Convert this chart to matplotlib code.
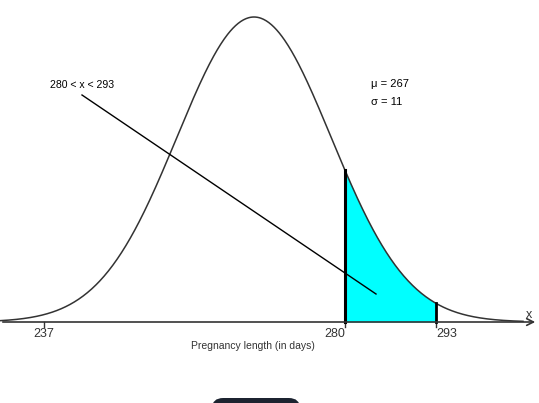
import numpy as np
import matplotlib
matplotlib.use("Agg")
import matplotlib.pyplot as plt
from matplotlib.patches import FancyBboxPatch

mu = 267
sigma = 11
lower = 280
upper = 293
tick_values = [237, 280, 293]
tick_labels = ["237", "280", "293"]
range_label = "280 < x < 293"
mu_label = "\u03bc = 267"
sigma_label = "\u03c3 = 11"
xlabel = "Pregnancy length (in days)"

plt.rcParams['font.family'] = ['Liberation Sans', 'DejaVu Sans']

W, H = 539, 403
fig = plt.figure(figsize=(W / 100, H / 100), dpi=100)
ax = fig.add_axes([0, 0, 1, 1])
ax.set_axis_off()

# pixel mapping helpers (layout only)
X0PX, XSCALE = 44, 7.0     # pixel of 237, px per day
AXIS_Y = 322
PEAK = 305


def px(xp):
    return 237 + (xp - X0PX) / XSCALE


def py(yp):
    return AXIS_Y - yp


ax.set_xlim(px(0), px(W))
ax.set_ylim(py(H), py(0))


def curve(x):
    return PEAK * np.exp(-0.5 * ((x - mu) / sigma) ** 2)


xs = np.linspace(px(-2), px(523), 600)
ax.plot(xs, curve(xs), color="#333333", lw=1.1, zorder=3)

xf = np.linspace(lower, upper, 200)
ax.fill_between(xf, 0, curve(xf), color="#00ffff", zorder=2, lw=0)
ax.plot([lower, lower], [0, curve(lower)], color="black", lw=2.2, zorder=4)
ax.plot([upper, upper], [0, curve(upper)], color="black", lw=2.0, zorder=4)

# x axis with arrow
ax.annotate("", xy=(px(538), 0), xytext=(px(0), 0),
            arrowprops=dict(arrowstyle="->", color="#333333", lw=1.2,
                            mutation_scale=12), zorder=5)
ax.text(px(529), py(315), "x", fontsize=9, color="#333333", ha="center", va="center")

# ticks
aligns = ["center", "right", "left"]
for v, lab, al in zip(tick_values, tick_labels, aligns):
    ax.plot([v, v], [0, -5], color="#333333", lw=1.0)
    ax.text(v, py(334), lab, fontsize=9, color="#333333", ha=al, va="center")

ax.text(px(253), py(346), xlabel, fontsize=7.5, color="#333333", ha="center", va="center")

# annotations
ax.text(px(50), py(85), range_label, fontsize=7.6, color="black", ha="left", va="center")
ax.plot([px(82), px(376)], [py(95), py(294)], color="black", lw=1.0, zorder=5)
ax.text(px(371), py(84), mu_label, fontsize=8, color="black", ha="left", va="center")
ax.text(px(371), py(102), sigma_label, fontsize=8, color="black", ha="left", va="center")

# dark UI element partially visible at bottom
btn = FancyBboxPatch((px(212), py(420)), px(300) - px(212), 22,
                     boxstyle="round,pad=0,rounding_size=1.6",
                     mutation_aspect=6.5, facecolor="#1c2330", edgecolor="none",
                     clip_on=True, zorder=6)
ax.add_patch(btn)

fig.savefig("out.png", dpi=100)
